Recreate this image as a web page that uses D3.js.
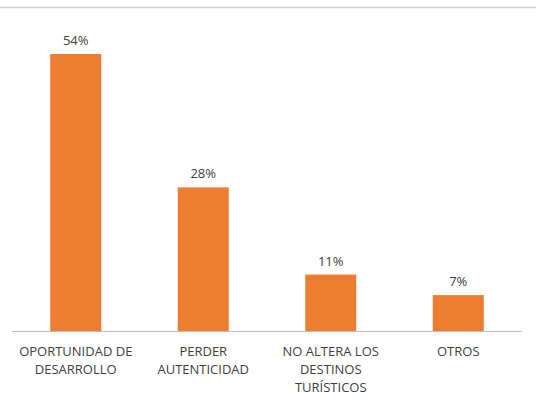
<!DOCTYPE html>
<html><head><meta charset="utf-8">
<script src="https://cdn.jsdelivr.net/npm/d3@7"></script>
<style>body{margin:0;background:#fff}svg{display:block}</style>
</head><body>
<script>
const categories = [["OPORTUNIDAD DE","DESARROLLO"],["PERDER","AUTENTICIDAD"],["NO ALTERA LOS","DESTINOS","TURÍSTICOS"],["OTROS"]];
const values = [54, 28, 11, 7];
const valueLabels = ["54%","28%","11%","7%"];

const W = 536, H = 403;
const svg = d3.select("body").append("svg").attr("width", W).attr("height", H);
const font = "'Open Sans', 'Liberation Sans', sans-serif";

svg.append("line").attr("x1",0).attr("x2",W).attr("y1",7.5).attr("y2",7.5)
  .attr("stroke","#cfcfcf").attr("stroke-width",1.5);

const x = d3.scaleBand().domain(d3.range(values.length)).range([12, 522]).paddingInner(0.6).paddingOuter(0.3);
const y = d3.scaleLinear().domain([0, 60]).range([331, 331 - 60*5.13]);

svg.selectAll("rect.bar").data(values).join("rect").attr("class","bar")
  .attr("x",(d,i)=>x(i)).attr("width",x.bandwidth())
  .attr("y",d=>y(d)).attr("height",d=>y(0)-y(d)).attr("fill","#ED7D31");

svg.append("line").attr("x1",12).attr("x2",522).attr("y1",331.5).attr("y2",331.5)
  .attr("stroke","#bfbfbf").attr("stroke-width",1);

svg.selectAll("text.val").data(values).join("text").attr("class","val")
  .attr("x",(d,i)=>x(i)+x.bandwidth()/2).attr("y",d=>y(d)-9)
  .attr("text-anchor","middle").attr("font-family",font).attr("font-size",13)
  .attr("fill","#404040").text((d,i)=>valueLabels[i]);

const cg = svg.selectAll("text.cat").data(categories).join("text").attr("class","cat")
  .attr("text-anchor","middle").attr("font-family",font).attr("font-size",13).attr("fill","#404040");
cg.each(function(lines,i){
  d3.select(this).selectAll("tspan").data(lines).join("tspan")
    .attr("x", x(i)+x.bandwidth()/2).attr("y",(l,j)=>356+j*18).text(l=>l);
});
</script>
</body></html>
